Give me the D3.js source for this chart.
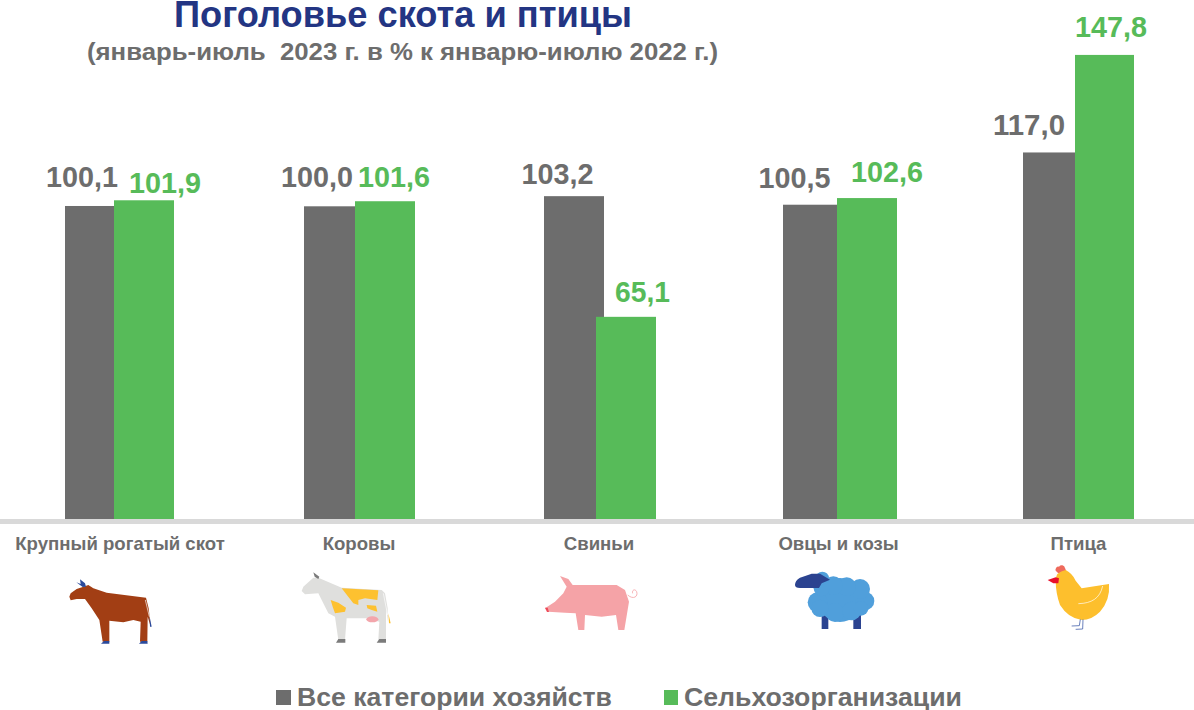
<!DOCTYPE html>
<html><head><meta charset="utf-8">
<script src="https://cdn.jsdelivr.net/npm/d3@7/dist/d3.min.js"></script>
<style>html,body{margin:0;padding:0;background:#fff;overflow:hidden}text{font-family:"Liberation Sans",Arial,sans-serif;font-weight:bold}</style>
</head><body><svg id="c" width="1194" height="710"></svg>
<script>
const categories = ["Крупный рогатый скот","Коровы","Свиньи","Овцы и козы","Птица"];
const allFarms = [100.1,100.0,103.2,100.5,117.0];
const agriOrgs = [101.9,101.6,65.1,102.6,147.8];
const seriesNames = ["Все категории хозяйств","Сельхозорганизации"];
const titleText = "Поголовье скота и птицы";
const subtitleText = "(январь-июль  2023 г. в % к январю-июлю 2022 г.)";

const GRAY="#6d6d6d", GREEN="#57bb59", NAVY="#233583";
const svg=d3.select("#c");
const fmt=v=>v.toFixed(1).replace(".",",");
const baseY=523;
const y=d3.scaleLinear().domain([0,150]).range([baseY,baseY-150*3.167]);
const x=d3.scaleOrdinal().domain(categories).range([119.5,358.5,598.5,838,1078]);
const grayLeft=d3.scaleOrdinal().domain(categories).range([65,304,544,783,1023]);
const greenLeft=d3.scaleOrdinal().domain(categories).range([114,355,596,837,1075]);
const grayLabelX=d3.scaleOrdinal().domain(categories).range([82,317,557.5,794.5,1029]);
const greenLabelX=d3.scaleOrdinal().domain(categories).range([165,394,642.5,887,1111]);
const grayLabelY=d3.scaleOrdinal().domain(categories).range([187,187,184,188,135]);
const greenLabelY=d3.scaleOrdinal().domain(categories).range([193,187,302,182,37]);
const barW=60;

svg.append("text").attr("x",403).attr("y",27).attr("text-anchor","middle").attr("font-size",37).attr("fill",NAVY)
  .attr("textLength",458).attr("lengthAdjust","spacingAndGlyphs").text(titleText);
svg.append("text").attr("x",402.5).attr("y",60).attr("text-anchor","middle").attr("font-size",24).attr("fill",GRAY)
  .style("white-space","pre").attr("textLength",631).attr("lengthAdjust","spacingAndGlyphs").text(subtitleText);

svg.append("g").selectAll("rect").data(categories).join("rect")
  .attr("x",c=>grayLeft(c)).attr("width",barW)
  .attr("y",(c,i)=>y(allFarms[i])).attr("height",(c,i)=>baseY-y(allFarms[i])).attr("fill",GRAY);
svg.append("g").selectAll("rect").data(categories).join("rect")
  .attr("x",c=>greenLeft(c)).attr("width",c=>c==="Птица"?barW-1:barW)
  .attr("y",(c,i)=>y(agriOrgs[i])).attr("height",(c,i)=>baseY-y(agriOrgs[i])).attr("fill",GREEN);

svg.append("g").selectAll("text").data(categories).join("text")
  .attr("x",c=>grayLabelX(c)).attr("y",c=>grayLabelY(c)).attr("text-anchor","middle")
  .attr("font-size",30).attr("textLength",72).attr("lengthAdjust","spacingAndGlyphs").attr("fill",GRAY).text((c,i)=>fmt(allFarms[i]));
svg.append("g").selectAll("text").data(categories).join("text")
  .attr("x",c=>greenLabelX(c)).attr("y",c=>greenLabelY(c)).attr("text-anchor","middle")
  .attr("font-size",30).attr("textLength",(c,i)=>fmt(agriOrgs[i]).length===4?55:72).attr("lengthAdjust","spacingAndGlyphs").attr("fill",GREEN).text((c,i)=>fmt(agriOrgs[i]));

svg.append("rect").attr("x",0).attr("y",519).attr("width",1194).attr("height",5).attr("fill","#d9d9d9");
const axis=svg.append("g").attr("transform",`translate(0,522)`).call(d3.axisBottom(x).tickSize(0).tickPadding(15));
axis.select(".domain").remove();
axis.selectAll("text").attr("font-size",18.6).attr("fill",GRAY);

/* pictograms, sketched in 3× local units */
const icon=(ox,oy)=>svg.append("g").attr("transform",`translate(${ox},${oy}) scale(${1/3})`);

const cow=icon(40,575);
cow.append("path").attr("fill","#a23e14").attr("d","M88 65L92 55L110 42L128 36L145 30L160 40L200 53L318 68L326 100L332 155L323 125L322 200L300 200L302 140L280 135L250 142L208 137L208 200L188 200L178 135L155 100L135 72L110 72L92 76Z");
cow.append("path").attr("fill","#2b4a9b").attr("d","M128 36L109 22L122 27L120 13L135 25L138 35ZM183 206L192 198L208 198L208 206ZM297 206L305 198L322 198L323 206ZM329 125L335 155L330 155Z");
cow.append("path").attr("stroke","#fff").attr("stroke-width",2).attr("fill","none").attr("d","M316 75L328 125");

const dairy=icon(290,565);
dairy.append("path").attr("fill","#dfdfdd").attr("d","M35 78L40 65L70 38L85 38L155 68L275 75L285 85L293 130L294 170L288 130L288 225L265 225L268 170L230 160L170 160L165 225L145 225L135 155L115 145L85 85L45 88Z");
dairy.append("path").attr("fill","#7b7b7b").attr("d","M70 22L88 35L85 42L74 35ZM138 233L145 222L166 222L166 233ZM260 233L268 222L288 222L288 233Z");
dairy.append("path").attr("fill","#fdc130").attr("d","M155 70L265 76L262 105L225 100L205 105L205 120L190 115ZM122 105L145 113L168 128L165 140L135 145L128 125ZM230 120L258 122L262 140L245 135L232 130ZM295 145L302 175L297 175Z");
dairy.append("ellipse").attr("cx",247).attr("cy",163).attr("rx",18).attr("ry",9).attr("fill","#f3a6ac");
dairy.append("path").attr("stroke","#fff").attr("stroke-width",2).attr("fill","none").attr("d","M280 85L293 150");

const pig=icon(535,565);
pig.append("path").attr("fill","#f5a3a7").attr("d","M30 130L60 110L85 85L95 65L75 33L100 42L113 60L245 60L270 75L282 110L268 195L250 195L243 150L200 155L150 150L148 195L130 195L122 145L90 143L40 140Z");
pig.append("path").attr("fill","#ee4b5a").attr("d","M30 128L38 128L42 141L36 141Z");
pig.append("path").attr("stroke","#f5a3a7").attr("stroke-width",2.5).attr("fill","none").attr("d","M278 90C295 105 310 95 305 80C300 70 290 75 293 85");

const sheep=icon(785,565);
sheep.append("path").attr("fill","#2b4390").attr("d","M110 150H130V192H110ZM205 150H228V192H205Z");
sheep.selectAll("circle").data([[165,105,66],[98,112,30],[240,108,28],[225,72,30],[185,65,28],[145,62,28],[112,40,20],[110,70,24],[150,143,28],[200,138,28],[105,130,26],[228,130,22]]).join("circle")
  .attr("cx",d=>d[0]).attr("cy",d=>d[1]).attr("r",d=>d[2]).attr("fill","#509fdb");
sheep.append("path").attr("fill","#2b4390").attr("d","M30 60Q30 46 45 38L80 26L105 26L135 44L110 55L102 69L45 69Q30 69 30 60Z");

const hen=icon(1035,560);
hen.append("path").attr("fill","#ee6a5c").attr("d","M62 32A9 9 0 0 1 72 20A10 10 0 0 1 90 24L94 34L70 40Z");
hen.append("path").attr("fill","#fdbf2d").attr("d","M62 60Q62 36 92 30Q112 40 122 62L140 85L222 72Q226 120 195 155Q170 180 140 180Q100 175 75 135Q62 100 62 60Z");
hen.append("path").attr("fill","#e8102a").attr("d","M38 60L62 52L72 55L70 70L55 70Z");
hen.append("path").attr("stroke","#fff").attr("stroke-width",2).attr("fill","none").attr("d","M130 131C170 130 195 115 203 78");
hen.append("path").attr("stroke","#4c68ae").attr("stroke-width",2.5).attr("fill","none").attr("d","M136 178L133 197L110 198M144 178L143 207L122 208");

/* legend */
const lg=svg.append("g");
lg.selectAll("rect").data(seriesNames).join("rect").attr("x",(d,i)=>[276,664][i]).attr("y",690).attr("width",(d,i)=>[15,14][i]).attr("height",15).attr("fill",(d,i)=>[GRAY,GREEN][i]);
lg.selectAll("text").data(seriesNames).join("text").attr("x",(d,i)=>[297,684][i]).attr("y",706).attr("font-size",25).attr("fill",GRAY)
  .attr("textLength",(d,i)=>[315,278][i]).attr("lengthAdjust","spacingAndGlyphs").text(d=>d);
</script></body></html>
